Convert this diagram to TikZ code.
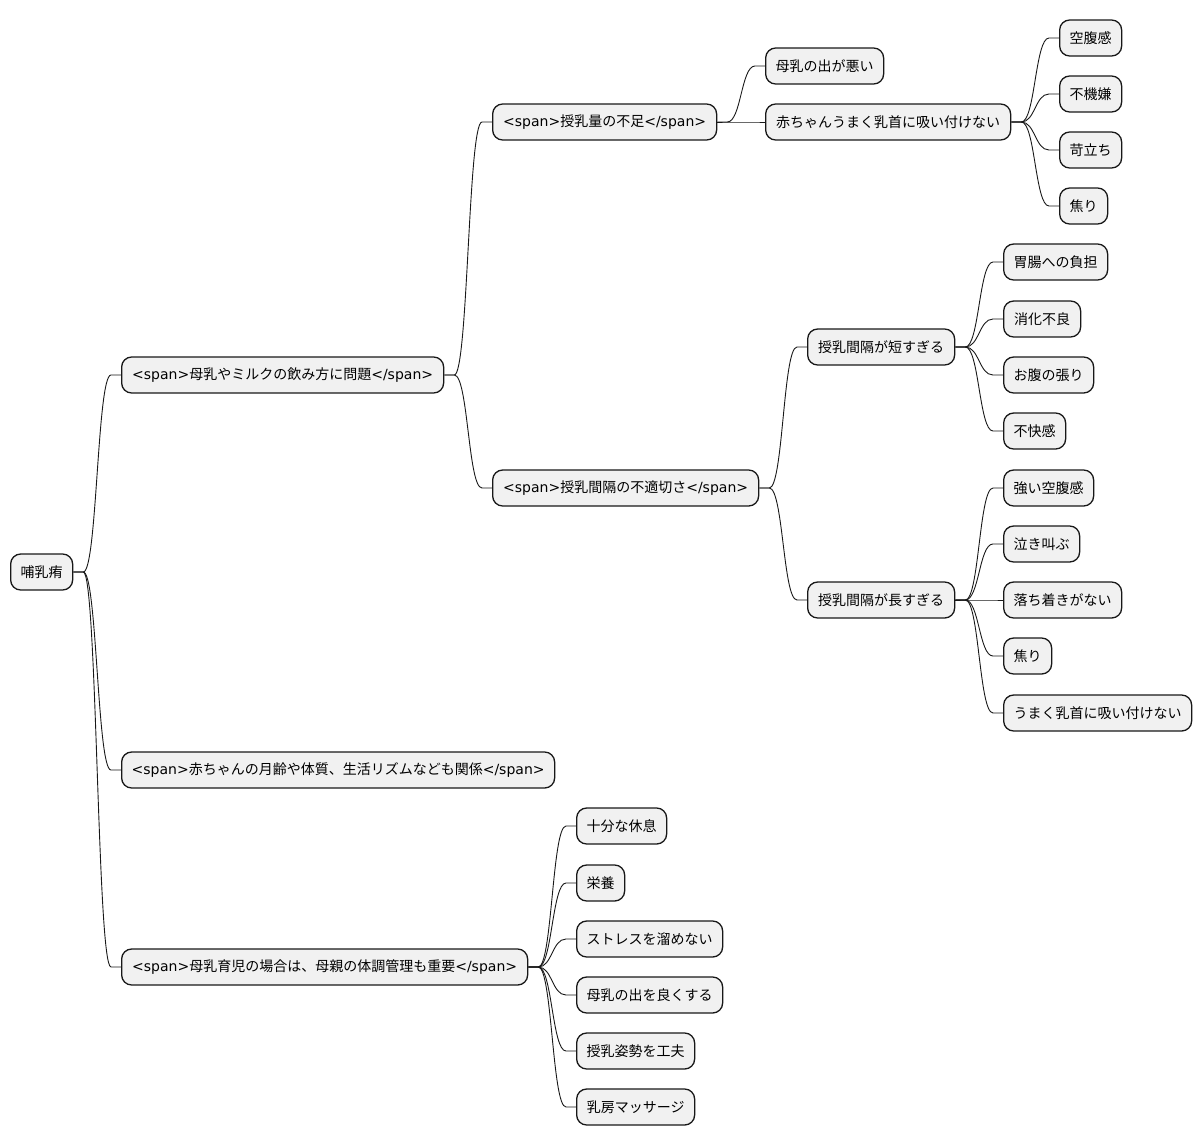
\documentclass[tikz,border=0pt]{standalone}
\usepackage{fontspec}
\setmainfont{Noto Sans CJK JP}
\newfontfamily\dv{DejaVu Sans}
\usetikzlibrary{calc}
\definecolor{boxfill}{HTML}{F1F1F1}
\definecolor{boxline}{HTML}{181818}
\tikzset{
  mmbox/.style={draw=boxline, fill=boxfill, line width=1.3pt, rounded corners=10pt,
    minimum height=36pt, anchor=west, inner xsep=0pt, inner ysep=0pt, align=center,
    font=\fontsize{14}{17}\selectfont},
  mmedge/.style={draw=boxline, line width=0.9pt}
}
\newcommand\mmlink[2]{%
  \path (#1.east) ++(10,0) coordinate (mmS);
  \path (#2.west) ++(-10,0) coordinate (mmE);
  \path ($(mmS)!0.5!(mmE)$) coordinate (mmM);
  \draw[mmedge] (#1.east) -- (mmS) .. controls (mmM|-mmS) and (mmM|-mmE) .. (mmE) -- (#2.west);
}
\newcommand\mmspan[1]{{\dv <span>}#1{\dv </span>}}
\begin{document}
\begin{tikzpicture}[x=1pt,y=-1pt]
\useasboundingbox (0,0) rectangle (1202,1146);
% root
\node[mmbox, minimum width=62] (root) at (10,572) {哺乳痏};
% level 1
\node[mmbox, minimum width=322] (A) at (121,375) {\mmspan{母乳やミルクの飲み方に問題}};
\node[mmbox, minimum width=433] (B) at (121,770) {\mmspan{赤ちゃんの月齢や体質、生活リズムなども関係}};
\node[mmbox, minimum width=406] (C) at (121,967) {\mmspan{母乳育児の場合は、母親の体調管理も重要}};
% level 2
\node[mmbox, minimum width=224] (A1) at (492,122) {\mmspan{授乳量の不足}};
\node[mmbox, minimum width=266] (A2) at (492,488) {\mmspan{授乳間隔の不適切さ}};
% level 3 under A1
\node[mmbox, minimum width=118] (A1a) at (765,66) {母乳の出が悪い};
\node[mmbox, minimum width=245] (A1b) at (765,122) {赤ちゃんうまく乳首に吸い付けない};
\node[mmbox, minimum width=62] (A1b1) at (1059,38) {空腹感};
\node[mmbox, minimum width=62] (A1b2) at (1059,94) {不機嫌};
\node[mmbox, minimum width=62] (A1b3) at (1059,150) {苛立ち};
\node[mmbox, minimum width=48] (A1b4) at (1059,206) {焦り};
% level 3 under A2
\node[mmbox, minimum width=147] (A2a) at (807,347) {授乳間隔が短すぎる};
\node[mmbox, minimum width=147] (A2b) at (807,600) {授乳間隔が長すぎる};
\node[mmbox, minimum width=104] (A2a1) at (1003,262) {胃腸への負担};
\node[mmbox, minimum width=77] (A2a2) at (1003,319) {消化不良};
\node[mmbox, minimum width=90] (A2a3) at (1003,375) {お腹の張り};
\node[mmbox, minimum width=62] (A2a4) at (1003,431) {不快感};
\node[mmbox, minimum width=90] (A2b1) at (1003,488) {強い空腹感};
\node[mmbox, minimum width=76] (A2b2) at (1003,544) {泣き叫ぶ};
\node[mmbox, minimum width=118] (A2b3) at (1003,600) {落ち着きがない};
\node[mmbox, minimum width=48] (A2b4) at (1003,656) {焦り};
\node[mmbox, minimum width=188] (A2b5) at (1003,713) {うまく乳首に吸い付けない};
% under C
\node[mmbox, minimum width=90] (C1) at (576,826) {十分な休息};
\node[mmbox, minimum width=48] (C2) at (576,883) {栄養};
\node[mmbox, minimum width=146] (C3) at (576,939) {ストレスを溜めない};
\node[mmbox, minimum width=146] (C4) at (576,995) {母乳の出を良くする};
\node[mmbox, minimum width=118] (C5) at (576,1051) {授乳姿勢を工夫};
\node[mmbox, minimum width=118] (C6) at (576,1107) {乳房マッサージ};
% links
\mmlink{root}{A}\mmlink{root}{B}\mmlink{root}{C}
\mmlink{A}{A1}\mmlink{A}{A2}
\mmlink{A1}{A1a}\mmlink{A1}{A1b}
\mmlink{A1b}{A1b1}\mmlink{A1b}{A1b2}\mmlink{A1b}{A1b3}\mmlink{A1b}{A1b4}
\mmlink{A2}{A2a}\mmlink{A2}{A2b}
\mmlink{A2a}{A2a1}\mmlink{A2a}{A2a2}\mmlink{A2a}{A2a3}\mmlink{A2a}{A2a4}
\mmlink{A2b}{A2b1}\mmlink{A2b}{A2b2}\mmlink{A2b}{A2b3}\mmlink{A2b}{A2b4}\mmlink{A2b}{A2b5}
\mmlink{C}{C1}\mmlink{C}{C2}\mmlink{C}{C3}\mmlink{C}{C4}\mmlink{C}{C5}\mmlink{C}{C6}
\end{tikzpicture}
\end{document}
